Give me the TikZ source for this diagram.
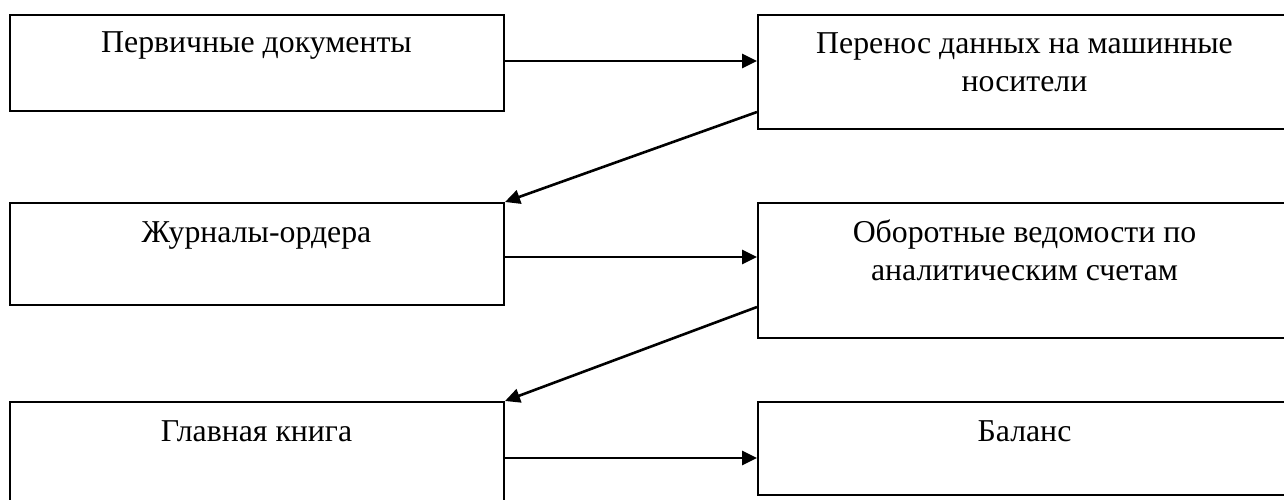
\documentclass[tikz,border=0pt]{standalone}
\usepackage{fontspec}
\setmainfont{Liberation Serif}
\usetikzlibrary{arrows.meta}
\begin{document}
\begin{tikzpicture}[x=1pt,y=-1pt,
  box/.style={draw=black,line width=2pt,rectangle,inner sep=0pt,anchor=north west},
  lbl/.style={anchor=base,align=center,inner sep=0pt,font=\fontsize{31.8}{38.7}\selectfont},
  arr/.style={draw=black,line width=2.6pt,-{Triangle[length=15pt,width=14pt]}}]
\useasboundingbox (0,0) rectangle (1284,500);
\clip (0,0) rectangle (1284,500);
\node[box,minimum width=494pt,minimum height=96pt] (b1) at (9,14) {};
\node[box,minimum width=535pt,minimum height=114pt] (b2) at (757,14) {};
\node[box,minimum width=494pt,minimum height=102pt] (b3) at (9,202) {};
\node[box,minimum width=535pt,minimum height=135pt] (b4) at (757,202) {};
\node[box,minimum width=494pt,minimum height=115pt] (b5) at (9,401) {};
\node[box,minimum width=535pt,minimum height=93pt] (b6) at (757,401) {};
\node[lbl] (t1) at (256.5,53) {Первичные документы};
\node[lbl] (t2) at (1024.5,91.7) {Перенос данных на машинные\\носители};
\node[lbl] (t3) at (256.5,242) {Журналы-ордера};
\node[lbl] (t4) at (1024.5,280.7) {Оборотные ведомости по\\аналитическим счетам};
\node[lbl] (t5) at (256.5,441) {Главная книга};
\node[lbl] (t6) at (1024.5,441) {Баланс};
\coordinate (p1) at ([yshift=2pt]b1.east);
\coordinate (p3) at ([yshift=-3pt]b3.east);
\coordinate (p5) at ([yshift=1.5pt]b5.east);
\draw[arr] (p1) -- (b2.west |- p1);
\draw[arr] ([yshift=18pt]b2.south west) -- (b3.north east);
\draw[arr] (p3) -- (b4.west |- p3);
\draw[arr] ([yshift=32pt]b4.south west) -- (b5.north east);
\draw[arr] (p5) -- (b6.west |- p5);
\end{tikzpicture}
\end{document}
